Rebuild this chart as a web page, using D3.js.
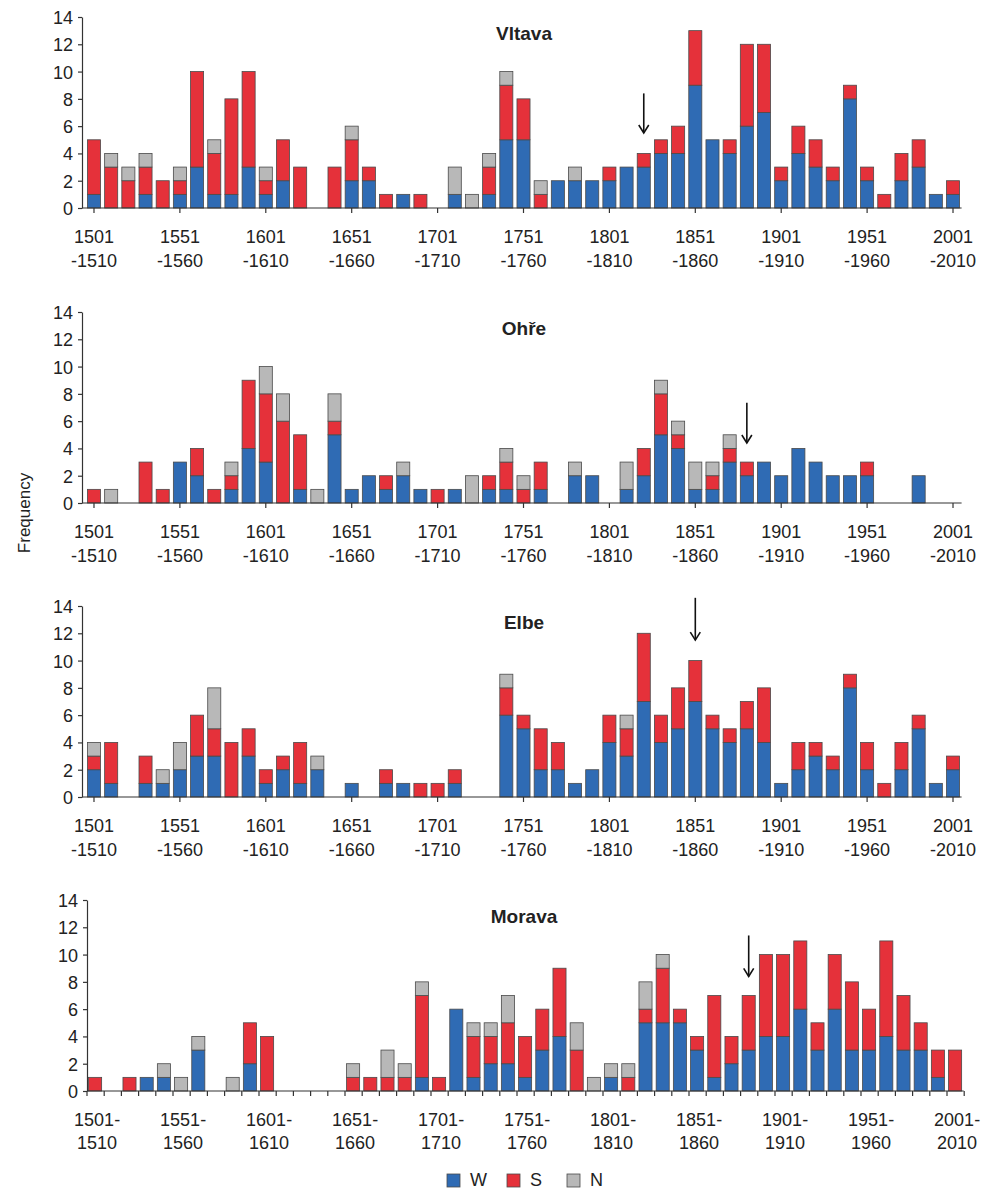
<!DOCTYPE html>
<html>
<head>
<meta charset="utf-8">
<script src="https://cdn.jsdelivr.net/npm/d3@7/dist/d3.min.js"></script>
<style>
  body { margin: 0; background: #fff; }
  text { font-family: 'Liberation Sans', Arial, sans-serif; fill: #222; }
</style>
</head>
<body>
<div id="container"></div>
<script>
// decades 1501-1510 ... 2001-2010
const decades = d3.range(1501, 2002, 10)
const rivers = ['Vltava', 'Ohře', 'Elbe', 'Morava']
const yTicks = [0, 2, 4, 6, 8, 10, 12, 14]
const labelDecades = [1501, 1551, 1601, 1651, 1701, 1751, 1801, 1851, 1901, 1951, 2001]

const vltavaW = [1,0,0,1,0,1,3,1,1,3, 1,2,0,0,0,2,2,0,1,0, 0,1,0,1,5,5,0,2,2,2, 2,3,3,4,4,9,5,4,6,7, 2,4,3,2,8,2,0,2,3,1, 1]
const vltavaS = [4,3,2,2,2,1,7,3,7,7, 1,3,3,0,3,3,1,1,0,1, 0,0,0,2,4,3,1,0,0,0, 1,0,1,1,2,4,0,1,6,5, 1,2,2,1,1,1,1,2,2,0, 1]
const vltavaN = [0,1,1,1,0,1,0,1,0,0, 1,0,0,0,0,1,0,0,0,0, 0,2,1,1,1,0,1,0,1,0, 0,0,0,0,0,0,0,0,0,0, 0,0,0,0,0,0,0,0,0,0, 0]

const ohreW = [0,0,0,0,0,3,2,0,1,4, 3,0,1,0,5,1,2,1,2,1, 0,1,0,1,1,0,1,0,2,2, 0,1,2,5,4,1,1,3,2,3, 2,4,3,2,2,2,0,0,2,0, 0]
const ohreS = [1,0,0,3,1,0,2,1,1,5, 5,6,4,0,1,0,0,1,0,0, 1,0,0,1,2,1,2,0,0,0, 0,0,2,3,1,0,1,1,1,0, 0,0,0,0,0,1,0,0,0,0, 0]
const ohreN = [0,1,0,0,0,0,0,0,1,0, 2,2,0,1,2,0,0,0,1,0, 0,0,2,0,1,1,0,0,1,0, 0,2,0,1,1,2,1,1,0,0, 0,0,0,0,0,0,0,0,0,0, 0]

const elbeW = [2,1,0,1,1,2,3,3,0,3, 1,2,1,2,0,1,0,1,1,0, 0,1,0,0,6,5,2,2,1,2, 4,3,7,4,5,7,5,4,5,4, 1,2,3,2,8,2,0,2,5,1, 2]
const elbeS = [1,3,0,2,0,0,3,2,4,2, 1,1,3,0,0,0,0,1,0,1, 1,1,0,0,2,1,3,2,0,0, 2,2,5,2,3,3,1,1,2,4, 0,2,1,1,1,2,1,2,1,0, 1]
const elbeN = [1,0,0,0,1,2,0,3,0,0, 0,0,0,1,0,0,0,0,0,0, 0,0,0,0,1,0,0,0,0,0, 0,1,0,0,0,0,0,0,0,0, 0,0,0,0,0,0,0,0,0,0, 0]

const moravaW = [0,0,0,1,1,0,3,0,0,2, 0,0,0,0,0,0,0,0,0,1, 0,6,1,2,2,1,3,4,0,0, 1,0,5,5,5,3,1,2,3,4, 4,6,3,6,3,3,4,3,3,1, 0]
const moravaS = [1,0,1,0,0,0,0,0,0,3, 4,0,0,0,0,1,1,1,1,6, 1,0,3,2,3,3,3,5,3,0, 0,1,1,4,1,1,6,2,4,6, 6,5,2,4,5,3,7,4,2,2, 3]
const moravaN = [0,0,0,0,1,1,1,0,1,0, 0,0,0,0,0,1,0,2,1,1, 0,0,1,1,2,0,0,0,2,1, 1,1,2,1,0,0,0,0,0,0, 0,0,0,0,0,0,0,0,0,0, 0]

// arrows: decade pointed at, value at tail and at tip
const arrowDecade = [1821, 1881, 1851, 1881]
const arrowFrom = [8.4, 7.35, 14.6, 11.4]
const arrowTo = [5.5, 4.4, 11.5, 8.4]

const keys = ['W', 'S', 'N']
const colors = { W: '#2f6bb4', S: '#e5313a', N: '#b8b8b8' }

const series = [
  [vltavaW, vltavaS, vltavaN],
  [ohreW, ohreS, ohreN],
  [elbeW, elbeS, elbeN],
  [moravaW, moravaS, moravaN]
]

const w = 992
const h = 1191
const panelTop = [17, 312, 606, 900]
const plotH = 191

const svg = d3.select('#container')
  .append('svg')
  .attr('width', w)
  .attr('height', h)

const stack = d3.stack().keys(keys)

series.forEach((s, p) => {
  const morava = p === 3
  const spineX = morava ? 87 : 82
  const range = morava ? [86.5, 963.7] : [85.4, 961.6]

  const rows = decades.map((d, i) => ({ decade: d, W: s[0][i], S: s[1][i], N: s[2][i] }))
  const stacked = stack(rows)

  const x = d3.scaleBand().domain(decades).range(range).padding(0)
  const y = d3.scaleLinear().domain([0, 14]).range([panelTop[p] + plotH, panelTop[p]])
  const g = svg.append('g')
  const step = x.step()

  // bars
  g.selectAll('.layer')
    .data(stacked)
    .enter().append('g')
    .attr('fill', d => colors[d.key])
    .selectAll('rect')
    .data(d => d.filter(v => v[1] > v[0]))
    .enter().append('rect')
    .attr('x', d => x(d.data.decade) + step * 0.12)
    .attr('width', step * 0.76)
    .attr('y', d => y(d[1]))
    .attr('height', d => y(d[0]) - y(d[1]))
    .attr('stroke', '#4a4a4a')
    .attr('stroke-width', 0.8)

  // y axis
  const yAxis = d3.axisLeft(y).tickValues(yTicks).tickSize(4).tickSizeOuter(0).tickPadding(5)
  const ya = g.append('g')
    .attr('transform', 'translate(' + spineX + ',0)')
    .call(yAxis)
  ya.selectAll('text').style('font-size', '18px').attr('dy', '0.36em')
  ya.selectAll('path, line').attr('stroke', '#333').attr('stroke-width', 1.2)

  // x axis
  const y0 = y(0)
  const xa = g.append('g').attr('transform', 'translate(0,' + y0 + ')')
  if (!morava) {
    xa.call(d3.axisBottom(x).tickValues(labelDecades).tickSize(5).tickFormat(''))
  } else {
    const xi = d3.scaleLinear().domain([0, decades.length]).range(range)
    xa.call(d3.axisBottom(xi).tickValues(d3.range(decades.length + 1)).tickSize(5).tickFormat(''))
  }
  xa.select('.domain').remove()
  xa.selectAll('line').attr('stroke', '#333').attr('stroke-width', 1.2)
  xa.append('line')
    .attr('x1', spineX).attr('x2', range[1])
    .attr('stroke', '#333').attr('stroke-width', 1.2)

  const lab = xa.selectAll('.lab')
    .data(labelDecades)
    .enter().append('text')
    .attr('class', 'lab')
    .attr('text-anchor', 'middle')
    .style('font-size', '18px')
    .attr('transform', d => 'translate(' + (x(d) + step / 2 + (morava ? 2 : 0)) + ',0)')
  lab.append('tspan').attr('x', 0).attr('y', 35)
    .text(d => morava ? d + '-' : d)
  lab.append('tspan').attr('x', 0).attr('y', morava ? 58 : 59)
    .text(d => morava ? (d + 9) : '-' + (d + 9))

  // title
  g.append('text')
    .attr('x', 524)
    .attr('y', panelTop[p] + 23)
    .attr('text-anchor', 'middle')
    .style('font-size', '19px')
    .style('font-weight', 'bold')
    .text(rivers[p])

  // arrow
  const ax = x(arrowDecade[p]) + step / 2
  const ay1 = y(arrowFrom[p])
  const ay2 = y(arrowTo[p])
  g.append('line')
    .attr('x1', ax).attr('x2', ax)
    .attr('y1', ay1).attr('y2', ay2)
    .attr('stroke', '#111').attr('stroke-width', 1.6)
  g.append('path')
    .attr('d', 'M' + (ax - 5) + ',' + (ay2 - 8) + 'L' + ax + ',' + ay2 + 'L' + (ax + 5) + ',' + (ay2 - 8))
    .attr('fill', 'none')
    .attr('stroke', '#111').attr('stroke-width', 1.6)
})

svg.append('text')
  .attr('transform', 'translate(30,513) rotate(-90)')
  .attr('text-anchor', 'middle')
  .style('font-size', '17px')
  .text('Frequency')

// legend
const legendX = d3.scalePoint().domain(keys).range([447, 567])
const legend = svg.append('g').attr('id', 'legend')
legend.selectAll('rect')
  .data(keys)
  .enter().append('rect')
  .attr('x', d => legendX(d))
  .attr('y', 1174)
  .attr('width', 13)
  .attr('height', 13)
  .attr('fill', d => colors[d])
  .attr('stroke', '#4a4a4a')
  .attr('stroke-width', 0.8)
legend.selectAll('text')
  .data(keys)
  .enter().append('text')
  .attr('x', d => legendX(d) + 23)
  .attr('y', 1186)
  .style('font-size', '18px')
  .text(d => d)
</script>
</body>
</html>
